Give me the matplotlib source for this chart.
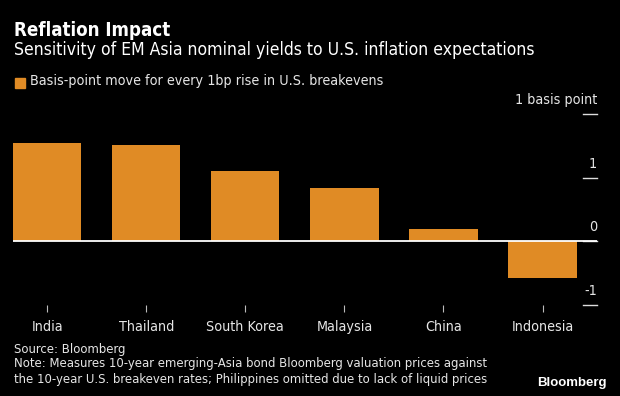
import matplotlib
matplotlib.use("Agg")
import matplotlib.pyplot as plt
import matplotlib.transforms as mtransforms

# data
countries = ["India", "Thailand", "South Korea", "Malaysia", "China", "Indonesia"]
sensitivity = [1.55, 1.51, 1.10, 0.83, 0.20, -0.58]
ytick_vals = [2, 1, 0, -1]
ytick_labels = ["1 basis point", "1", "0", "-1"]

bar_color = "#E08B25"
txt_color = "#E6E6E6"

# Bloomberg uses a narrow face; DejaVu Sans Condensed is the closest here
plt.rcParams["font.family"] = ["DejaVu Sans"]
plt.rcParams["font.stretch"] = "condensed"

fig = plt.figure(figsize=(6.2, 3.96), dpi=100, facecolor="black")
ax = fig.add_axes([13 / 620, 1 - 305 / 396, (597 - 13) / 620, (305 - 114) / 396])
ax.set_facecolor("black")

xs = range(len(countries))
ax.bar(xs, sensitivity, width=0.69, color=bar_color, zorder=2)
ax.axhline(0, color="white", lw=1.3, zorder=3)

ax.set_xlim(-0.345, 5.55)
ax.set_ylim(-1, 2)
for s in ax.spines.values():
    s.set_visible(False)

ax.set_xticks(list(xs))
ax.set_xticklabels(countries, color=txt_color, fontsize=10.25)
ax.tick_params(axis="x", colors="#BBBBBB", length=5, width=0.8, pad=6, labelcolor=txt_color)
ax.set_yticks([])

# right-side tick stubs with labels above them
trans = mtransforms.blended_transform_factory(ax.transAxes, ax.transData)
for v, lab in zip(ytick_vals, ytick_labels):
    ax.plot([0.976, 1.0], [v, v], color="#DDDDDD", lw=1, transform=trans, clip_on=False)
    ax.text(1.0, v + 0.11, lab, transform=trans, ha="right", va="bottom",
            color=txt_color, fontsize=10.3)

fig.text(14 / 620, 1 - 30 / 396, "Reflation Impact", color="white", fontsize=13.4,
         fontweight="bold", va="center")
fig.text(14 / 620, 1 - 50 / 396,
         "Sensitivity of EM Asia nominal yields to U.S. inflation expectations",
         color="white", fontsize=12.6, va="center")
fig.patches.append(plt.Rectangle((15 / 620, 1 - 88 / 396), 10 / 620, 10 / 396,
                                 color=bar_color, transform=fig.transFigure))
fig.text(30 / 620, 1 - 81.5 / 396, "Basis-point move for every 1bp rise in U.S. breakevens",
         color=txt_color, fontsize=10.25, va="center")

fig.text(14 / 620, 1 - 349 / 396, "Source: Bloomberg", color=txt_color, fontsize=9.4, va="center")
fig.text(14 / 620, 1 - 364 / 396,
         "Note: Measures 10-year emerging-Asia bond Bloomberg valuation prices against",
         color=txt_color, fontsize=9.4, va="center")
fig.text(14 / 620, 1 - 379 / 396,
         "the 10-year U.S. breakeven rates; Philippines omitted due to lack of liquid prices",
         color=txt_color, fontsize=9.4, va="center")
fig.text(607 / 620, 1 - 383 / 396, "Bloomberg", color="white", fontsize=9.5,
         fontweight="bold", ha="right", va="center", family=["Liberation Sans", "DejaVu Sans"])

fig.savefig("out.png", dpi=100, facecolor="black")
